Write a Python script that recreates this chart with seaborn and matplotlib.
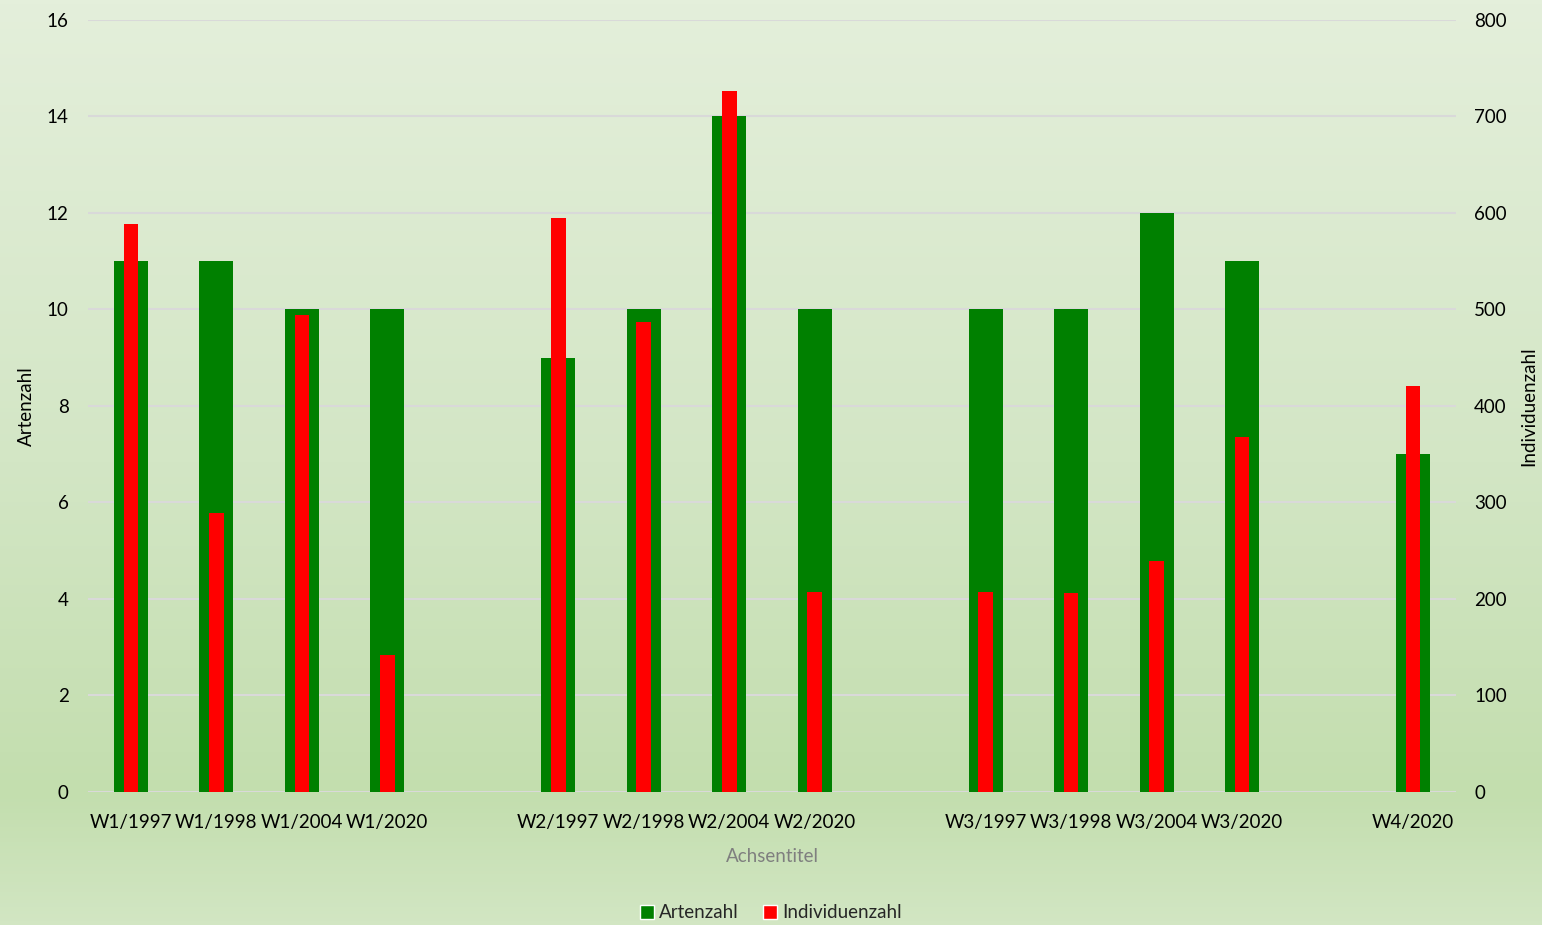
import numpy as np
import pandas as pd
import matplotlib
matplotlib.use("Agg")
import matplotlib.pyplot as plt
from matplotlib.colors import LinearSegmentedColormap
from matplotlib.patches import Patch
import seaborn as sns

categories = ["W1/1997", "W1/1998", "W1/2004", "W1/2020", " ",
              "W2/1997", "W2/1998", "W2/2004", "W2/2020", "  ",
              "W3/1997", "W3/1998", "W3/2004", "W3/2020", "   ",
              "W4/2020"]
artenzahl = [11, 11, 10, 10, np.nan, 9, 10, 14, 10, np.nan, 10, 10, 12, 11, np.nan, 7]
individuenzahl = [589, 289, 494, 142, np.nan, 595, 487, 726, 207, np.nan,
                  207, 206, 239, 368, np.nan, 421]
left_ticks = [0, 2, 4, 6, 8, 10, 12, 14, 16]
right_ticks = [0, 100, 200, 300, 400, 500, 600, 700, 800]

df = pd.DataFrame({"Kategorie": categories,
                   "Artenzahl": artenzahl,
                   "Individuenzahl": individuenzahl})

sns.set_theme(style="white")
plt.rcParams["font.family"] = ["Lato", "DejaVu Sans"]

GREEN = "#008000"
RED = "#ff0000"
GRID = "#d9d9d9"
FS = 13.5

fig = plt.figure(figsize=(15.42, 9.25), dpi=100)
fig.patch.set_facecolor("#d4e7c6")

# soft vertical gradient behind the whole chart
bg = fig.add_axes([0, 0, 1, 1], zorder=-10)
cmap = LinearSegmentedColormap.from_list(
    "bg", [(0.0, "#e4efdb"), (0.5, "#d3e6c5"), (0.86, "#c3deae"), (1.0, "#d2e6c3")])
grad = np.linspace(0, 1, 256).reshape(-1, 1)
bg.imshow(grad, aspect="auto", cmap=cmap, extent=[0, 1, 0, 1], origin="upper")
bg.set_axis_off()

ax = fig.add_axes([0.0571, 0.1438, 0.8871, 0.8346])
ax.set_facecolor("none")
sns.barplot(data=df, x="Kategorie", y="Artenzahl", order=categories,
            color=GREEN, saturation=1, width=0.4, linewidth=0, ax=ax, zorder=2)
ax.set_ylim(0, 16)
ax.set_yticks(left_ticks)
ax.set_xlim(-0.5, len(categories) - 0.5)
ax.yaxis.grid(True, color=GRID, linewidth=1.5, zorder=0)
ax.set_axisbelow(True)
for s in ax.spines.values():
    s.set_visible(False)
ax.tick_params(axis="both", length=0, labelsize=FS, colors="black")
ax.tick_params(axis="y", pad=14)
ax.tick_params(axis="x", pad=16)
ax.set_ylabel("Artenzahl", fontsize=FS, color="black")
ax.yaxis.set_label_coords(-0.0385, 0.5)
ax.set_xlabel("Achsentitel", fontsize=FS, color="#7f7f7f", labelpad=12)

ax2 = ax.twinx()
ax2.set_facecolor("none")
sns.barplot(data=df, x="Kategorie", y="Individuenzahl", order=categories,
            color=RED, saturation=1, width=0.17, linewidth=0, ax=ax2, zorder=3)
ax2.set_ylim(0, 800)
ax2.set_yticks(right_ticks)
ax2.set_xlim(-0.5, len(categories) - 0.5)
for s in ax2.spines.values():
    s.set_visible(False)
ax2.tick_params(axis="both", length=0, labelsize=FS, colors="black")
ax2.tick_params(axis="y", pad=13)
ax2.set_ylabel("Individuenzahl", fontsize=FS, color="black")
ax2.yaxis.set_label_coords(1.047, 0.5)
ax2.set_xlabel("")

handles = [Patch(facecolor=GREEN, label="Artenzahl"),
           Patch(facecolor=RED, label="Individuenzahl")]
fig.legend(handles=handles, loc="center", bbox_to_anchor=(0.5, 0.013),
           ncol=2, frameon=False, fontsize=FS, handlelength=0.75,
           handleheight=0.75, handletextpad=0.25, columnspacing=1.3)

fig.savefig("out.png", dpi=100)
